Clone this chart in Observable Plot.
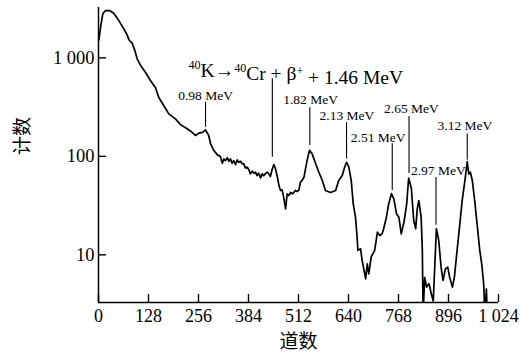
<!DOCTYPE html>
<html>
<head>
<meta charset="utf-8">
<script src="https://cdn.jsdelivr.net/npm/d3@7"></script>
<script src="https://cdn.jsdelivr.net/npm/@observablehq/plot@0.6"></script>
<style>
  html, body { margin: 0; padding: 0; background: #fff; }
  #chart svg { display: block; }
</style>
</head>
<body>
<div id="chart"></div>
<script>
// Spectrum: channel number (道数) and counts (计数)
const channels = [
  1, 6, 11, 18, 28, 39, 52, 65, 74, 78,
  86, 93, 99, 108, 120, 133, 146, 154, 167, 180,
  197, 210, 223, 236, 248, 257, 266, 274, 282,
  287, 295, 304, 312, 317, 321, 325, 330, 334, 338,
  342, 346, 351, 355, 359, 364, 368, 372, 376, 381,
  385, 389, 394, 398, 402, 406, 410, 415, 419, 423,
  428, 432, 436, 440, 445, 449, 453, 458, 462, 466,
  470, 474, 479, 483, 487, 492, 496, 500, 504, 509,
  513, 517, 522, 526, 534, 540,
  547, 556, 564, 573, 581, 594, 607, 615, 624, 630, 635, 641,
  647, 652, 658, 662, 664, 671, 675, 684, 688, 692,
  698, 707, 714, 720, 726, 730, 737, 743, 750, 756,
  763, 769, 775, 782, 789, 794, 801, 807, 812, 816,
  820, 826, 829, 831, 835, 840, 846, 852, 857, 860,
  865, 871, 877, 882, 888, 894, 899, 906, 911, 918,
  925, 931, 938, 944, 948, 952, 957, 963, 970, 976,
  981, 986, 989, 993, 995
];
const counts = [
  1520, 2130, 2800, 3020, 3020, 2840, 2390, 1970, 1680, 1520,
  1410, 1190, 977, 835, 714, 588, 496, 398, 328, 270,
  240, 210, 195, 180, 163, 172, 175, 185, 163,
  134, 115, 104, 99.5, 85, 94, 90.6, 96.6, 89, 94,
  85, 90.6, 82.6, 92, 87, 89, 84, 84, 76.4, 77.5,
  72.9, 66.4, 70.6, 67.4, 69, 63.8, 67.4, 60.5, 66.4, 63.4,
  67.4, 69, 66.4, 62.4, 74.7, 82.6, 74.7, 61.4, 50.5, 45,
  45.7, 38.5, 29.3, 41.6, 40, 43, 41.6, 43, 45, 43.9,
  45.7, 54.6, 57.7, 61.4, 90.6, 115,
  106, 84, 69, 56.8, 45, 43, 45, 56.8, 64, 77.5, 87, 77.5,
  56.8, 33.2, 23.9, 15.1, 11.1, 11.5, 8.75, 5.7, 8.1, 6.4,
  9.5, 11.1, 17, 15.7, 16.3, 18.4, 24.1, 33, 41.9, 37,
  26.1, 24.1, 16.3, 21.4, 33, 60.2, 46.8, 22.3, 18.4, 29.3,
  35.6, 24.1, 11.1, 2.5, 5.9, 4.7, 5.1, 4.0, 3.4, 6.4,
  18.4, 14.0, 7.5, 5.5, 7.2, 7.5, 5.9, 4.7, 5.9, 11.1,
  20.6, 35.6, 56.8, 88.5, 66, 69, 56.8, 35.6, 19.1, 11.1,
  8.1, 5.1, 2.5, 4.5, 2.5
];

// Tick values
const xTicks = [0, 128, 256, 384, 512, 640, 768, 896, 1024];
const yTicks = [10, 100, 1000];
const xDomain = [0, 1024];
const yDomain = [3.28, 3245];

// Peak annotations: label, line channel, line top/bottom counts, label anchor
const peakLabels = ["0.98 MeV", "1.82 MeV", "2.13 MeV", "2.51 MeV", "2.65 MeV", "2.97 MeV", "3.12 MeV"];
const peakChannels = [274, 541, 635, 752, 795, 864, 944];
const lineTop = [354, 311, 219, 134, 254, 61, 169];
const lineBottom = [197, 129, 94, 45, 67, 20, 91];
const labelChannel = [274, 543, 636, 716, 801, 870, 938];
const labelCount = [414, 377, 260, 156, 303, 72, 205];

// Main reaction annotation (1.46 MeV line)
const mainLine = {ch: 445, top: 612, bottom: 98};
const mainLabel = {ch: 505, count: 790};
const formulaParts = [["40", true], ["K", false], ["\u2192", false], ["40", true], ["Cr + \u03b2", false], ["+", true], [" + 1.46 MeV", false]];

const xLabel = "道数";
const yLabel = "计数";

const spectrum = channels.map((c, i) => ({c, n: counts[i]}));
const peaks = peakLabels.map((label, i) => ({
  label, ch: peakChannels[i], top: lineTop[i], bottom: lineBottom[i],
  lx: labelChannel[i], ly: labelCount[i]
}));

const fmt = d => String(d).replace(/(\d)(\d{3})$/, "$1 $2");
const serif = "'Liberation Serif', 'Times New Roman', serif";
const cjk = "'Noto Sans CJK SC', sans-serif";

const W = 530, H = 358, mL = 98, mR = 32, mT = 7, mB = 56;
const tickLen = 8;

const plot = Plot.plot({
  width: W,
  height: H,
  marginLeft: mL,
  marginRight: mR,
  marginTop: mT,
  marginBottom: mB,
  style: {fontFamily: serif, background: "#fff", color: "#000"},
  x: {domain: xDomain},
  y: {type: "log", domain: yDomain},
  marks: [
    Plot.axisX({ticks: xTicks, tickFormat: fmt, tickSize: 0, tickPadding: 6.6, fontSize: 18, label: null}),
    Plot.axisY({ticks: yTicks, tickFormat: fmt, tickSize: 0, tickPadding: 4, fontSize: 18.5, label: null}),
    // inward tick marks
    Plot.tickX(xTicks, {x: d => d, insetTop: H - mT - mB - tickLen, strokeWidth: 1.4}),
    Plot.tickY(yTicks, {y: d => d, insetRight: W - mL - mR - tickLen, strokeWidth: 1.4}),
    Plot.ruleX([xDomain[0]], {strokeWidth: 1.5}),
    Plot.ruleY([yDomain[0]], {strokeWidth: 1.5}),
    Plot.line(spectrum, {x: "c", y: "n", stroke: "#000", strokeWidth: 1.7, clip: true, strokeLinejoin: "round"}),
    Plot.ruleX(peaks, {x: "ch", y1: "top", y2: "bottom", strokeWidth: 1.1}),
    Plot.ruleX([mainLine], {x: "ch", y1: "top", y2: "bottom", strokeWidth: 1.1}),
    Plot.text(peaks, {x: "lx", y: "ly", text: "label", fontSize: 13.5, fontFamily: serif, fill: "#000"}),
    Plot.text([mainLabel], {x: "ch", y: "count", text: () => formulaParts.map(p => p[0]).join(""), fontSize: 19.5, fontFamily: serif, fill: "#000", className: "formula"}),
    Plot.text([xLabel], {frameAnchor: "bottom", dy: 45, text: d => d, fontSize: 19, fontFamily: cjk, fill: "#000"}),
    Plot.text([yLabel], {frameAnchor: "left", dx: -76, rotate: -90, text: d => d, fontSize: 19, fontFamily: cjk, fill: "#000"})
  ]
});

document.getElementById("chart").appendChild(plot);

// Superscripts in the reaction formula
const ft = plot.querySelector(".formula text");
if (ft) {
  ft.textContent = "";
  let raised = false;
  for (const [t, sup] of formulaParts) {
    const ts = document.createElementNS("http://www.w3.org/2000/svg", "tspan");
    ts.textContent = t;
    if (sup && !raised) { ts.setAttribute("dy", "-0.42em"); raised = true; }
    else if (!sup && raised) { ts.setAttribute("dy", "0.42em"); raised = false; }
    if (sup) ts.setAttribute("font-size", "0.62em");
    ft.appendChild(ts);
  }
}
</script>
</body>
</html>
